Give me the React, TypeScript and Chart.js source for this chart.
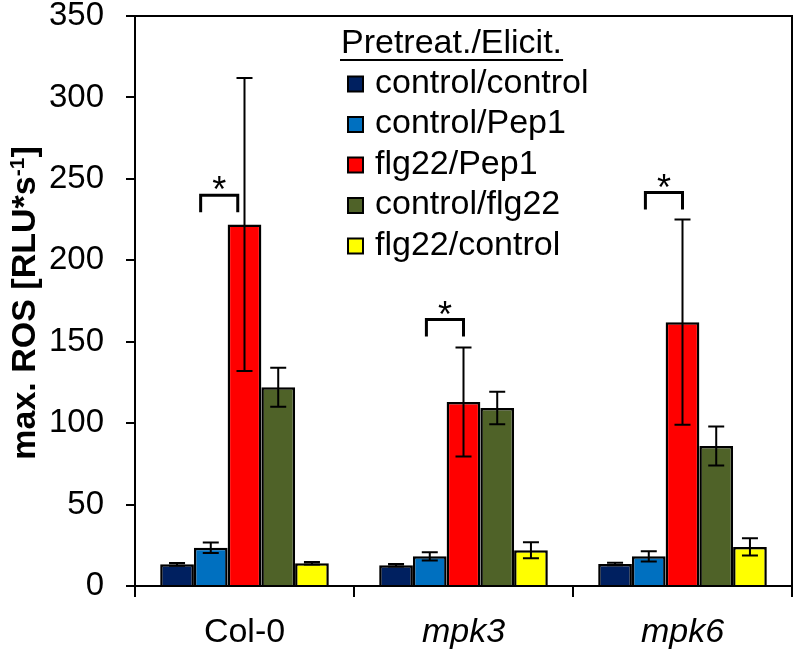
import React, { useEffect, useRef } from "react";
import { Chart, registerables } from "chart.js";

Chart.register(...registerables);

// ---------- data ----------
const categories = ["Col-0", "mpk3", "mpk6"];
const italicCategory = [false, true, true];

const seriesLabels = ["control/control", "control/Pep1", "flg22/Pep1", "control/flg22", "flg22/control"];
const seriesColors = ["#002060", "#0070C0", "#FF0000", "#4F6228", "#FFFF00"];

const controlControl = [13.3, 12.7, 13.5];
const controlPep1 = [23.5, 18.2, 18.2];
const flg22Pep1 = [222, 113, 162];
const controlFlg22 = [122, 109.3, 86];
const flg22Control = [14, 22, 24];

const errControlControl = [0.8, 0.8, 0.8];
const errControlPep1 = [3.2, 2.6, 3.1];
const errFlg22Pep1 = [90, 33.5, 63];
const errControlFlg22 = [12, 10, 12];
const errFlg22Control = [0.8, 4.9, 5.3];

const yMin = 0;
const yMax = 350;
const yStep = 50;

const legendTitle = "Pretreat./Elicit.";
const yTitleMain = "max. ROS [RLU*s";
const yTitleSup = "-1";
const yTitleEnd = "]";

// significance brackets (between control/Pep1 and flg22/Pep1)
const sigCategory = [0, 1, 2];
const sigTopValue = [240, 163.6, 241.6];
const sigShiftBars = [-0.2, 0, 0];
const sigMark = "*";

const seriesValues = [controlControl, controlPep1, flg22Pep1, controlFlg22, flg22Control];
const seriesErrors = [errControlControl, errControlPep1, errFlg22Pep1, errControlFlg22, errFlg22Control];

const FONT = '"Liberation Sans", Arial, Helvetica, sans-serif';

const extrasPlugin = {
  id: "extras",
  afterDatasetsDraw(chart: any) {
    const ctx = chart.ctx;
    const y = chart.scales.y;
    // error bars
    ctx.save();
    ctx.strokeStyle = "#000";
    ctx.lineWidth = 2;
    chart.data.datasets.forEach((ds: any, i: number) => {
      const meta = chart.getDatasetMeta(i);
      meta.data.forEach((bar: any, j: number) => {
        const v = ds.data[j];
        const e = seriesErrors[i][j];
        const yt = y.getPixelForValue(v + e);
        const yb = y.getPixelForValue(v - e);
        const half = 8;
        ctx.beginPath();
        ctx.moveTo(bar.x, yt);
        ctx.lineTo(bar.x, yb);
        ctx.moveTo(bar.x - half, yt);
        ctx.lineTo(bar.x + half, yt);
        ctx.moveTo(bar.x - half, yb);
        ctx.lineTo(bar.x + half, yb);
        ctx.stroke();
      });
    });
    ctx.restore();
  },
  afterDraw(chart: any) {
    const ctx = chart.ctx;
    const area = chart.chartArea;
    const y = chart.scales.y;

    // frame: top & right
    ctx.save();
    ctx.strokeStyle = "#000";
    ctx.lineWidth = 2;
    ctx.beginPath();
    ctx.moveTo(area.left - 9, Math.round(area.top));
    ctx.lineTo(area.right + 1, Math.round(area.top));
    ctx.moveTo(Math.round(area.right), area.top);
    ctx.lineTo(Math.round(area.right), area.bottom);
    ctx.stroke();
    ctx.restore();

    // significance brackets
    const m1 = chart.getDatasetMeta(1);
    const m2 = chart.getDatasetMeta(2);
    ctx.save();
    ctx.strokeStyle = "#000";
    ctx.fillStyle = "#000";
    ctx.lineWidth = 3;
    ctx.lineJoin = "miter";
    ctx.lineCap = "butt";
    sigCategory.forEach((c, k) => {
      const b1 = m1.data[c];
      const b2 = m2.data[c];
      const bw = b2.width;
      const xl = b1.x - 0.1 * bw + sigShiftBars[k] * bw;
      const xr = b2.x + sigShiftBars[k] * bw;
      const yt = y.getPixelForValue(sigTopValue[k]);
      ctx.beginPath();
      ctx.moveTo(xl, yt + 17);
      ctx.lineTo(xl, yt);
      ctx.lineTo(xr, yt);
      ctx.lineTo(xr, yt + 17);
      ctx.stroke();
      ctx.font = `36px ${FONT}`;
      ctx.textAlign = "center";
      ctx.textBaseline = "alphabetic";
      const mt = ctx.measureText(sigMark);
      const cy = yt - 12;
      const base = cy + (mt.actualBoundingBoxAscent - mt.actualBoundingBoxDescent) / 2;
      ctx.fillText(sigMark, (xl + xr) / 2, base);
    });
    ctx.restore();

    // legend
    ctx.save();
    ctx.fillStyle = "#000";
    ctx.font = `34px ${FONT}`;
    ctx.textAlign = "left";
    ctx.textBaseline = "alphabetic";
    const tx = 341;
    const tb = 53;
    ctx.fillText(legendTitle, tx, tb);
    const tw = ctx.measureText(legendTitle).width;
    ctx.strokeStyle = "#000";
    ctx.lineWidth = 2;
    ctx.beginPath();
    ctx.moveTo(tx - 1, tb + 7);
    ctx.lineTo(tx + tw + 1, tb + 7);
    ctx.stroke();
    seriesLabels.forEach((lab, i) => {
      const base = 92.5 + 40.5 * i;
      ctx.fillStyle = seriesColors[i];
      ctx.fillRect(348, base - 16, 15, 15);
      ctx.strokeStyle = "#000";
      ctx.lineWidth = 2;
      ctx.strokeRect(348, base - 16, 15, 15);
      ctx.fillStyle = "#000";
      ctx.fillText(lab, 375, base);
    });
    ctx.restore();

    // y axis title with superscript
    ctx.save();
    ctx.translate(35, 303);
    ctx.rotate(-Math.PI / 2);
    ctx.fillStyle = "#000";
    ctx.textAlign = "left";
    ctx.textBaseline = "alphabetic";
    const mainFont = `bold 34px ${FONT}`;
    const supFont = `bold 21px ${FONT}`;
    ctx.font = mainFont;
    const w1 = ctx.measureText(yTitleMain).width;
    const w3 = ctx.measureText(yTitleEnd).width;
    ctx.font = supFont;
    const w2 = ctx.measureText(yTitleSup).width;
    const total = w1 + w2 + w3;
    const x0 = -total / 2;
    ctx.font = mainFont;
    ctx.fillText(yTitleMain, x0, 0);
    ctx.font = supFont;
    ctx.fillText(yTitleSup, x0 + w1, -11);
    ctx.font = mainFont;
    ctx.fillText(yTitleEnd, x0 + w1 + w2, 0);
    ctx.restore();
  },
};

export default function App() {
  const ref = useRef<HTMLCanvasElement | null>(null);

  useEffect(() => {
    if (!ref.current) return;
    const chart = new Chart(ref.current, {
      type: "bar",
      data: {
        labels: categories,
        datasets: seriesLabels.map((lab, i) => ({
          label: lab,
          data: seriesValues[i],
          backgroundColor: seriesColors[i],
          borderColor: "#000",
          borderWidth: 2.5,
          categoryPercentage: 0.77,
          barPercentage: 1.0,
        })),
      },
      options: {
        responsive: false,
        animation: false,
        devicePixelRatio: 1,
        layout: { padding: { top: 16, right: 5, left: 0, bottom: 0 } },
        plugins: {
          legend: { display: false },
          tooltip: { enabled: false },
          title: { display: false },
        },
        scales: {
          x: {
            offset: true,
            grid: {
              display: true,
              offset: true,
              drawOnChartArea: false,
              drawTicks: true,
              tickLength: 11,
              color: "#000",
              lineWidth: 2,
            },
            border: { display: true, color: "#000", width: 2 },
            ticks: {
              color: "#000",
              padding: 15,
              font: (c: any) => ({
                family: FONT,
                size: 34,
                style: italicCategory[c.index] ? "italic" : "normal",
              }),
            },
            afterFit: (s: any) => {
              s.height = 65;
              s.paddingLeft = 0;
              s.paddingRight = 0;
            },
          },
          y: {
            min: yMin,
            max: yMax,
            grid: {
              display: true,
              drawOnChartArea: false,
              drawTicks: true,
              tickLength: 9,
              color: "#000",
              lineWidth: 2,
            },
            border: { display: true, color: "#000", width: 2 },
            ticks: {
              stepSize: yStep,
              color: "#000",
              padding: 22,
              font: { family: FONT, size: 33 },
            },
            afterFit: (s: any) => {
              s.width = 135;
              s.paddingTop = 0;
              s.paddingBottom = 0;
            },
          },
        },
      },
      plugins: [extrasPlugin],
    });
    return () => chart.destroy();
  }, []);

  return (
    <div style={{ position: "absolute", left: 0, top: 0, width: 797, height: 651, background: "#fff" }}>
      <canvas ref={ref} width={797} height={651} style={{ display: "block" }} />
    </div>
  );
}
